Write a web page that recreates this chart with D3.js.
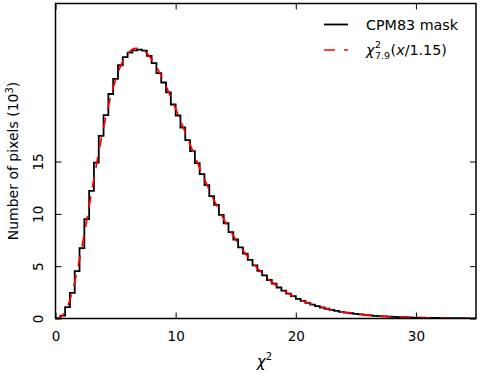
<!DOCTYPE html>
<html>
<head>
<meta charset="utf-8">
<script src="https://cdn.jsdelivr.net/npm/d3@7"></script>
<style>
  html, body { margin: 0; padding: 0; background: #fff; }
  text { font-family: "DejaVu Sans", sans-serif; fill: #000; }
</style>
</head>
<body>
<div id="chart"></div>
<script>
  // histogram: bins of width 0.4 starting at 0, counts in units of 10^3
  const binWidth = 0.4
  const histCounts = [
    0.02, 0.27, 1.09, 2.45, 4.53, 6.72, 9.49, 12.20, 14.90, 17.45,
    19.43, 21.45, 22.90, 24.20, 24.97, 25.40, 25.62, 25.70, 25.60, 25.10,
    24.40, 23.45, 22.55, 21.60, 20.45, 19.40, 18.25, 17.05, 16.00, 14.85,
    13.80, 12.75, 11.70, 10.85, 9.90, 9.10, 8.25, 7.55, 6.80, 6.20,
    5.60, 5.08, 4.55, 4.12, 3.68, 3.33, 2.96, 2.66, 2.37, 2.13,
    1.88, 1.69, 1.49, 1.33, 1.18, 1.05, 0.93, 0.82, 0.73, 0.64,
    0.57, 0.50, 0.44, 0.39, 0.34, 0.30, 0.26, 0.23, 0.20, 0.18,
    0.16, 0.14, 0.12, 0.10, 0.09, 0.08, 0.07, 0.06, 0.05, 0.05,
    0.04, 0.035, 0.03, 0.026, 0.023, 0.02, 0.017, 0.015
  ]
  // red dashed curve read at the bin centres
  const curveValues = [
    0.014, 0.297, 1.126, 2.553, 4.503, 6.84, 9.41, 12.06, 14.66, 17.11,
    19.31, 21.23, 22.82, 24.06, 24.97, 25.54, 25.81, 25.80, 25.55, 25.07,
    24.42, 23.62, 22.70, 21.69, 20.61, 19.49, 18.35, 17.20, 16.06, 14.94,
    13.85, 12.80, 11.80, 10.84, 9.94, 9.09, 8.29, 7.54, 6.85, 6.21,
    5.62, 5.07, 4.57, 4.12, 3.70, 3.32, 2.97, 2.66, 2.38, 2.12,
    1.89, 1.68, 1.50, 1.33, 1.18, 1.05, 0.928, 0.821, 0.726, 0.642,
    0.566, 0.500, 0.440, 0.388, 0.341, 0.300, 0.264, 0.232, 0.203, 0.178,
    0.156, 0.137, 0.120, 0.105, 0.092, 0.080, 0.070, 0.061, 0.053, 0.046,
    0.040, 0.035, 0.030, 0.026, 0.023, 0.020, 0.017, 0.015
  ]
  const xTicks = [0, 10, 20, 30]
  const yTicks = [0, 5, 10, 15]
  const xDomain = [0, 35]
  const yDomain = [0, 30.1]

  const width = 480, height = 374
  const mLeft = 55.5, mRight = 476, mTop = 3.5, mBottom = 318.5

  const svg = d3.select("#chart")
    .append("svg")
    .attr("width", width)
    .attr("height", height)

  const x = d3.scaleLinear().domain(xDomain).range([mLeft, mRight])
  const y = d3.scaleLinear().domain(yDomain).range([mBottom, mTop])

  svg.append("defs").append("clipPath").attr("id", "clip")
    .append("rect")
    .attr("x", mLeft).attr("y", mTop)
    .attr("width", mRight - mLeft).attr("height", mBottom - mTop)

  // step outline of the histogram
  const steps = [[0, 0]]
  histCounts.forEach((v, i) => {
    steps.push([i * binWidth, v])
    steps.push([(i + 1) * binWidth, v])
  })

  const line = d3.line()
    .x(d => x(d[0]))
    .y(d => y(d[1]))

  const plot = svg.append("g").attr("clip-path", "url(#clip)")

  plot.append("path")
    .attr("d", line(steps))
    .attr("fill", "none")
    .attr("stroke", "#000")
    .attr("stroke-width", 1.8)

  const curvePts = [[0, 0]].concat(curveValues.map((v, i) => [(i + 0.5) * binWidth, v]))

  plot.append("path")
    .attr("d", line.curve(d3.curveMonotoneX)(curvePts))
    .attr("fill", "none")
    .attr("stroke", "#ff0000")
    .attr("stroke-width", 1.7)
    .attr("stroke-dasharray", "11,9")

  // axes: ticks pointing inwards on all four sides
  const xAxisB = d3.axisBottom(x).tickValues(xTicks).tickSizeInner(-6).tickSizeOuter(0).tickPadding(13)
  const xAxisT = d3.axisTop(x).tickValues(xTicks).tickSizeInner(-6).tickSizeOuter(0).tickFormat("")
  const yAxisL = d3.axisLeft(y).tickValues(yTicks).tickSizeInner(-6).tickSizeOuter(0).tickFormat("")
  const yAxisR = d3.axisRight(y).tickValues(yTicks).tickSizeInner(-6).tickSizeOuter(0).tickFormat("")

  const gxb = svg.append("g").attr("transform", `translate(0,${mBottom})`).call(xAxisB)
  svg.append("g").attr("transform", `translate(0,${mTop})`).call(xAxisT)
  const gyl = svg.append("g").attr("transform", `translate(${mLeft},0)`).call(yAxisL)
  svg.append("g").attr("transform", `translate(${mRight},0)`).call(yAxisR)

  svg.selectAll(".domain").remove()
  svg.selectAll(".tick line").attr("stroke", "#000").attr("stroke-width", 1)

  gxb.selectAll(".tick text")
    .attr("font-size", 13.5)
    .attr("font-family", "DejaVu Sans, sans-serif")
    .attr("fill", "#000")

  // rotated y tick labels
  gyl.selectAll(".tick").append("text")
    .attr("transform", "translate(-13,0) rotate(-90)")
    .attr("text-anchor", "middle")
    .attr("font-size", 13.5)
    .text(d => d)

  // frame
  svg.append("rect")
    .attr("x", mLeft).attr("y", mTop)
    .attr("width", mRight - mLeft).attr("height", mBottom - mTop)
    .attr("fill", "none")
    .attr("stroke", "#000")
    .attr("stroke-width", 1.5)

  // axis labels
  const yl = svg.append("text")
    .attr("transform", `translate(17.5,${(mTop + mBottom) / 2}) rotate(-90)`)
    .attr("text-anchor", "middle")
    .attr("font-size", 14)
  yl.append("tspan").text("Number of pixels (10")
  yl.append("tspan").attr("dy", -5).attr("font-size", 10).text("3")
  yl.append("tspan").attr("dy", 5).text(")")

  const xl = svg.append("text")
    .attr("x", (mLeft + mRight) / 2 - 9)
    .attr("y", 367)
    .attr("font-size", 15)
  xl.append("tspan").attr("font-style", "italic").text("χ")
  xl.append("tspan").attr("dy", -7).attr("font-size", 10).text("2")

  // legend
  const lx0 = 324, lx1 = 348
  svg.append("line")
    .attr("x1", lx0).attr("x2", lx1).attr("y1", 24.5).attr("y2", 24.5)
    .attr("stroke", "#000").attr("stroke-width", 1.8)
  svg.append("text").attr("x", 366).attr("y", 30).attr("font-size", 14.3).text("CPM83 mask")

  svg.append("line")
    .attr("x1", lx0).attr("x2", lx1).attr("y1", 50).attr("y2", 50)
    .attr("stroke", "#ff0000").attr("stroke-width", 1.7)
    .attr("stroke-dasharray", "11,9")

  const chi = svg.append("text").attr("x", 366).attr("y", 55).attr("font-size", 14.3)
    .attr("font-style", "italic").text("χ")
  const cw = chi.node().getComputedTextLength()
  svg.append("text").attr("x", 366 + cw + 0.5).attr("y", 48).attr("font-size", 9.5).text("2")
  const sub = svg.append("text").attr("x", 366 + cw + 0.5).attr("y", 59).attr("font-size", 9.5).text("7.9")
  const sw = sub.node().getComputedTextLength()
  const rest = svg.append("text").attr("x", 366 + cw + sw + 1).attr("y", 55).attr("font-size", 14.3)
  rest.append("tspan").text("(")
  rest.append("tspan").attr("font-style", "italic").text("x")
  rest.append("tspan").text("/1.15)")
</script>
</body>
</html>
